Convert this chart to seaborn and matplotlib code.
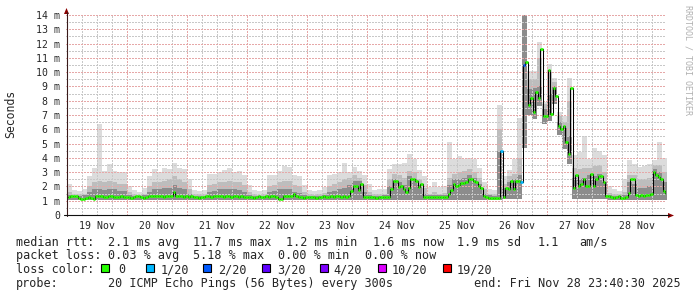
import numpy as np
import matplotlib
matplotlib.use("Agg")
import matplotlib.pyplot as plt
from matplotlib.lines import Line2D
from matplotlib.patches import Polygon, Rectangle
import seaborn as sns

# ---------------- data ----------------
day_labels = ["19 Nov", "20 Nov", "21 Nov", "22 Nov", "23 Nov",
              "24 Nov", "25 Nov", "26 Nov", "27 Nov", "28 Nov"]
y_tick_labels = ["0", "1 m", "2 m", "3 m", "4 m", "5 m", "6 m", "7 m",
                 "8 m", "9 m", "10 m", "11 m", "12 m", "13 m", "14 m"]

# hourly median rtt (ms), one list per day
median_19 = [1.25, 1.3, 1.3, 1.3, 1.2, 1.15, 1.15, 1.2, 1.25, 1.2, 1.1, 1.3,
             1.3, 1.3, 1.25, 1.25, 1.3, 1.3, 1.25, 1.25, 1.25, 1.3, 1.25, 1.25]
median_20 = [1.25, 1.2, 1.25, 1.3, 1.3, 1.25, 1.2, 1.25, 1.3, 1.3, 1.3, 1.3,
             1.35, 1.3, 1.25, 1.3, 1.3, 1.3, 1.6, 1.3, 1.3, 1.3, 1.25, 1.3]
median_21 = [1.25, 1.3, 1.25, 1.25, 1.2, 1.25, 1.25, 1.3, 1.3, 1.25, 1.3, 1.3,
             1.35, 1.3, 1.25, 1.3, 1.3, 1.25, 1.3, 1.3, 1.25, 1.3, 1.25, 1.25]
median_22 = [1.25, 1.25, 1.2, 1.25, 1.3, 1.25, 1.25, 1.3, 1.25, 1.3, 1.3, 1.25,
             1.1, 1.15, 1.3, 1.3, 1.3, 1.35, 1.5, 1.3, 1.25, 1.25, 1.2, 1.25]
median_23 = [1.25, 1.25, 1.25, 1.2, 1.25, 1.25, 1.3, 1.25, 1.25, 1.3, 1.25, 1.3,
             1.3, 1.25, 1.3, 1.25, 1.3, 1.7, 2.0, 2.0, 1.75, 2.15, 1.25, 1.25]
median_24 = [1.25, 1.25, 1.25, 1.2, 1.25, 1.25, 1.25, 1.25, 1.25, 1.8, 2.35, 2.4,
             1.95, 2.0, 1.85, 1.6, 1.9, 2.5, 2.5, 2.4, 1.95, 2.2, 1.25, 1.25]
median_25 = [1.25, 1.25, 1.25, 1.25, 1.25, 1.25, 1.25, 1.25, 1.5, 1.75, 2.2, 2.05,
             2.1, 2.25, 2.25, 2.3, 2.5, 2.5, 2.35, 2.3, 2.0, 1.9, 1.3, 1.25]
median_26 = [1.2, 1.2, 1.2, 1.2, 1.2, 4.5, 1.25, 1.9, 1.8, 2.35, 1.8, 2.35,
             2.35, 2.3, 10.5, 10.7, 7.7, 8.2, 7.2, 8.6, 8.2, 11.65, 6.9, 6.9]
median_27 = [10.15, 7.1, 8.9, 8.3, 6.2, 6.0, 6.2, 5.1, 4.3, 8.9, 1.9, 2.8,
             2.05, 2.2, 2.5, 2.05, 2.05, 2.9, 2.05, 2.5, 2.7, 2.7, 2.3, 1.3]
median_28 = [1.3, 1.25, 1.2, 1.25, 1.3, 1.2, 1.2, 1.25, 1.55, 2.5, 2.5, 1.4,
             1.3, 1.4, 1.35, 1.4, 1.4, 1.45, 3.0, 2.8, 2.65, 2.5, 1.65, 1.55]

# hours (from 19 Nov 00:00) with packet loss, and lost pings out of 20
loss_hours = [173, 181, 182]
loss_counts = [1, 1, 2]

# smoke (ping distribution) per 2-hour step: top of light / medium / dark band, and bottom
smoke_hi = [
    2.2, 1.75, 1.7, 1.8, 2.7, 3.3, 6.4, 3.1, 3.6, 3.1, 3.0, 3.0,
    2.0, 1.75, 1.6, 1.9, 2.7, 3.2, 3.0, 3.3, 3.2, 3.65, 3.3, 3.2,
    2.5, 1.75, 1.7, 1.75, 2.9, 2.9, 3.0, 3.15, 3.3, 3.0, 3.1, 2.8,
    2.1, 1.75, 1.65, 1.75, 2.8, 2.8, 3.1, 3.4, 3.35, 2.8, 2.7, 2.1,
    1.75, 1.65, 1.75, 1.95, 2.8, 2.9, 3.0, 3.65, 3.0, 3.35, 3.1, 2.8,
    2.2, 1.75, 1.8, 1.8, 3.25, 3.6, 3.55, 3.65, 4.3, 3.9, 3.15, 2.7,
    1.95, 2.3, 1.95, 2.0, 5.1, 3.9, 4.1, 3.95, 4.0, 3.9, 3.3, 2.3,
    1.85, 1.75, 7.7, 2.7, 3.15, 3.9, 6.8, 15.0, 10.1, 10.1, 12.1, 7.9,
    10.6, 9.6, 7.2, 6.9, 9.6, 4.2, 4.4, 5.5, 3.9, 4.7, 4.5, 4.2,
    2.0, 1.85, 1.7, 2.5, 3.85, 3.6, 3.35, 3.4, 3.6, 3.85, 5.1, 4.0,
]
smoke_mid = [
    1.6, 1.45, 1.45, 1.5, 2.0, 2.3, 2.4, 2.3, 2.4, 2.3, 2.2, 2.2,
    1.6, 1.45, 1.4, 1.5, 2.0, 2.3, 2.3, 2.4, 2.5, 2.7, 2.5, 2.3,
    1.8, 1.45, 1.45, 1.45, 2.1, 2.2, 2.3, 2.3, 2.4, 2.3, 2.3, 2.1,
    1.6, 1.45, 1.4, 1.45, 2.0, 2.1, 2.3, 2.4, 2.4, 2.1, 2.0, 1.6,
    1.45, 1.4, 1.45, 1.55, 2.0, 2.2, 2.3, 2.5, 2.6, 2.8, 2.6, 2.1,
    1.6, 1.45, 1.45, 1.5, 2.5, 2.9, 2.8, 2.6, 3.1, 3.0, 2.5, 1.9,
    1.5, 1.6, 1.5, 1.55, 2.6, 2.9, 3.0, 3.1, 3.2, 3.0, 2.6, 1.8,
    1.5, 1.45, 6.0, 2.2, 2.7, 2.9, 4.0, 15.0, 9.5, 9.5, 11.0, 7.8,
    10.0, 9.3, 6.9, 6.5, 8.0, 3.3, 3.2, 3.3, 3.3, 3.4, 3.5, 3.0,
    1.55, 1.5, 1.5, 1.6, 2.8, 2.8, 2.5, 2.5, 2.6, 3.5, 3.5, 3.0,
]
smoke_core = [
    1.4, 1.35, 1.35, 1.4, 1.6, 1.8, 1.8, 1.75, 1.85, 1.8, 1.7, 1.7,
    1.4, 1.35, 1.35, 1.4, 1.6, 1.8, 1.8, 1.9, 1.9, 2.1, 1.9, 1.8,
    1.5, 1.35, 1.35, 1.35, 1.6, 1.7, 1.8, 1.8, 1.8, 1.8, 1.75, 1.6,
    1.4, 1.35, 1.3, 1.35, 1.6, 1.65, 1.8, 1.85, 1.8, 1.6, 1.55, 1.4,
    1.35, 1.3, 1.35, 1.4, 1.6, 1.7, 1.8, 1.9, 2.1, 2.4, 2.4, 1.6,
    1.4, 1.35, 1.35, 1.4, 2.0, 2.5, 2.3, 2.1, 2.7, 2.5, 2.1, 1.5,
    1.4, 1.4, 1.4, 1.4, 2.1, 2.5, 2.5, 2.6, 2.8, 2.6, 2.2, 1.5,
    1.4, 1.35, 4.5, 1.9, 2.3, 2.5, 2.8, 15.0, 8.8, 8.9, 9.0, 7.4,
    8.5, 9.0, 6.5, 6.1, 5.5, 2.6, 2.5, 2.6, 2.8, 2.7, 2.9, 2.3,
    1.4, 1.35, 1.35, 1.4, 2.3, 2.2, 1.9, 1.9, 2.0, 3.2, 3.0, 2.3,
]
smoke_lo = [
    1.05, 1.05, 1.05, 1.05, 1.05, 1.05, 1.05, 1.05, 1.05, 1.05, 1.05, 1.05,
    1.05, 1.05, 1.05, 1.05, 1.05, 1.05, 1.05, 1.05, 1.05, 1.05, 1.05, 1.05,
    1.05, 1.05, 1.05, 1.05, 1.05, 1.05, 1.05, 1.05, 1.05, 1.05, 1.05, 1.05,
    1.05, 1.05, 1.05, 1.05, 1.05, 1.05, 1.05, 1.05, 1.05, 1.05, 1.05, 1.05,
    1.05, 1.05, 1.05, 1.05, 1.05, 1.05, 1.05, 1.05, 1.05, 1.05, 1.05, 1.05,
    1.05, 1.05, 1.05, 1.05, 1.05, 1.05, 1.05, 1.05, 1.05, 1.05, 1.05, 1.05,
    1.05, 1.05, 1.05, 1.05, 1.05, 1.05, 1.05, 1.05, 1.05, 1.05, 1.05, 1.05,
    1.05, 1.05, 1.05, 1.1, 1.1, 1.1, 1.1, 4.7, 7.0, 6.7, 7.6, 6.4,
    6.6, 7.8, 5.6, 4.6, 3.6, 1.15, 1.15, 1.15, 1.15, 1.15, 1.15, 1.1,
    1.05, 1.05, 1.05, 1.05, 1.05, 1.05, 1.05, 1.05, 1.05, 1.05, 1.05, 1.05,
]

loss_legend_labels = ["0", "1/20", "2/20", "3/20", "4/20", "10/20", "19/20"]
loss_legend_values = [0, 1, 2, 3, 4, 10, 19]
loss_legend_colors = ["#26ff00", "#00b8ff", "#0059ff", "#5e00ff",
                      "#7e00ff", "#dd00ff", "#ff0000"]

rtt_stats = ["median rtt:", "2.1 ms avg", "11.7 ms max", "1.2 ms min",
             "1.6 ms now", "1.9 ms sd", "1.1", "am/s"]
loss_stats = ["packet loss:", "0.03 % avg", "5.18 % max", "0.00 % min", "0.00 % now"]
probe_text = ["probe:", "20 ICMP Echo Pings (56 Bytes) every 300s"]
end_text = "end: Fri Nov 28 23:40:30 2025"

# ---------------- plotting ----------------
sns.set_style("white")
plt.rcParams["font.family"] = ["DejaVu Sans Mono", "DejaVu Sans"]
MONO = "DejaVu Sans Mono"

W, H = 697, 297
fig = plt.figure(figsize=(6.9701, 2.9701), dpi=100)
fig.patch.set_facecolor("white")


def fx(x):
    return x / W


def fy(y):
    return 1 - y / H


ax = fig.add_axes([66 / W, 82 / H, 600 / W, 200 / H])
ax.set_facecolor("white")
x_start, x_end = -0.325, 239.675
ax.set_xlim(x_start, x_end)
ax.set_ylim(0, 14)
for s in ax.spines.values():
    s.set_visible(False)

# smoke bands (2-hour steps)
median_ms = (median_19 + median_20 + median_21 + median_22 + median_23 +
             median_24 + median_25 + median_26 + median_27 + median_28)
n_s = len(smoke_hi)
t_s = np.arange(n_s + 1) * 2.0


def ext(a):
    return list(a) + [a[-1]]


ax.fill_between(t_s, ext(smoke_lo), ext(smoke_hi), step="post",
                color="#dcdcdc", lw=0, zorder=1)
ax.fill_between(t_s, ext(smoke_lo), ext(smoke_mid), step="post",
                color="#bdbdbd", lw=0, zorder=1.2)
ax.fill_between(t_s, ext(smoke_lo), ext(smoke_core), step="post",
                color="#8c8c8c", lw=0, zorder=1.4)

# grid (dotted, above smoke)
for h in range(0, 240, 6):
    col = "#e6a8a8" if h % 24 == 0 else "#c8c8c8"
    ax.axvline(h, color=col, lw=0.75, ls=(0, (1, 1)), zorder=2, antialiased=False)
for k in range(1, 29):
    col = "#e6a8a8" if k % 2 == 0 else "#c8c8c8"
    ax.axhline(k * 0.5, color=col, lw=0.75, ls=(0, (1, 1)), zorder=2, antialiased=False)

# median line: black steps + coloured hour segments
offset = 0.4
hours = np.arange(len(median_ms))
sns.lineplot(x=list(hours + offset) + [len(median_ms) + offset],
             y=median_ms + [median_ms[-1]], drawstyle="steps-post",
             color="black", lw=0.75, estimator=None, errorbar=None,
             ax=ax, zorder=4, legend=False)
seg_colors = [loss_legend_colors[0]] * len(median_ms)
for hh, cnt in zip(loss_hours, loss_counts):
    seg_colors[hh] = loss_legend_colors[loss_legend_values.index(cnt)]
ax.hlines(median_ms, hours + offset, hours + offset + 1, colors=seg_colors,
          lw=1.9, zorder=5)
ax.set_xlim(x_start, x_end)
ax.set_ylim(0, 14)
ax.set_xlabel("")
ax.set_ylabel("")

# ticks
ax.set_yticks(range(15))
ax.set_yticklabels(y_tick_labels, fontsize=7.1, family=MONO)
ax.set_xticks([12 + 24 * k for k in range(len(day_labels))])
ax.set_xticklabels(day_labels, fontsize=7.1, family=MONO)
ax.tick_params(axis="both", length=0)
ax.tick_params(axis="y", pad=4.2)
ax.tick_params(axis="x", pad=4.0)

# axes lines and arrows
fig.add_artist(Line2D([fx(66.5), fx(66.5)], [fy(216), fy(12)], color="#3a1a1a", lw=0.8))
fig.add_artist(Line2D([fx(64), fx(669)], [fy(215.5), fy(215.5)], color="#101010", lw=0.8))
fig.add_artist(Polygon([[fx(64), fy(14)], [fx(69), fy(14)], [fx(66.5), fy(8)]],
                       closed=True, transform=fig.transFigure, color="#8b0000", lw=0))
fig.add_artist(Polygon([[fx(668), fy(213)], [fx(668), fy(218)], [fx(674), fy(215.5)]],
                       closed=True, transform=fig.transFigure, color="#8b0000", lw=0))

# labels
fig.text(fx(11), fy(114), "Seconds", rotation=90, ha="center", va="center",
         fontsize=8.3, family=MONO)
fig.text(fx(688), fy(60), "RRDTOOL / TOBI OETIKER", rotation=270, ha="center",
         va="center", fontsize=6, family=MONO, color="#b0b0b0")

FS = 8.5
rtt_x = [16, 107.5, 193.3, 286, 372.7, 457.3, 537.3, 579]
for s, x in zip(rtt_stats, rtt_x):
    fig.text(fx(x), fy(245.5), s, ha="left", va="baseline", fontsize=FS, family=MONO)
loss_x = [16, 107.5, 193.3, 278, 365]
for s, x in zip(loss_stats, loss_x):
    fig.text(fx(x), fy(259.3), s, ha="left", va="baseline", fontsize=FS, family=MONO)
fig.text(fx(16), fy(273), "loss color:", ha="left", va="baseline", fontsize=FS, family=MONO)
box_x = [101, 146, 203, 262, 320, 378, 443]
lab_x = [118, 161, 218, 277, 333, 392, 457]
for lab, c, bx, lx in zip(loss_legend_labels, loss_legend_colors, box_x, lab_x):
    fig.add_artist(Rectangle((fx(bx), fy(272.5)), 8 / W, 8 / H, transform=fig.transFigure,
                             facecolor=c, edgecolor="black", lw=0.8))
    fig.text(fx(lx), fy(273), lab, ha="left", va="baseline", fontsize=FS, family=MONO)
fig.text(fx(16), fy(286.7), probe_text[0], ha="left", va="baseline", fontsize=FS, family=MONO)
fig.text(fx(107.5), fy(286.7), probe_text[1], ha="left", va="baseline", fontsize=FS, family=MONO)
fig.text(fx(680.5), fy(286.7), end_text, ha="right", va="baseline", fontsize=FS, family=MONO)

fig.savefig("out.png", dpi=100, facecolor="white")
